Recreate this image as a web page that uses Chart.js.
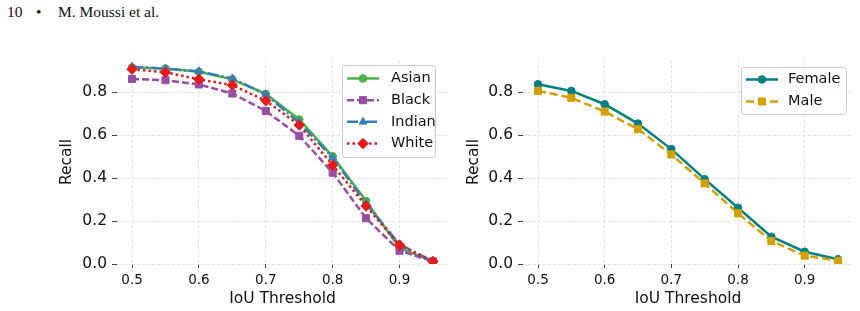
<!DOCTYPE html>
<html>
<head>
<meta charset="utf-8">
<script src="https://cdn.jsdelivr.net/npm/chart.js@4.4.1/dist/chart.umd.min.js"></script>
<style>
body { margin: 0; background: #fff; width: 860px; height: 311px; overflow: hidden; position: relative; }
.hd { position: absolute; top: 4px; font: 15.5px/15.5px "Liberation Serif", serif; color: #111; }
#left { position: absolute; left: 0; top: 0; }
#right { position: absolute; left: 455px; top: 0; }
</style>
</head>
<body>
<div class="hd" style="left:7px">10</div>
<div class="hd" style="left:36px">•</div>
<div class="hd" style="left:58px">M. Moussi et al.</div>
<canvas id="left" width="455" height="311"></canvas>
<canvas id="right" width="405" height="311"></canvas>
<script>
// valores
const iouThresholds = [0.5, 0.55, 0.6, 0.65, 0.7, 0.75, 0.8, 0.85, 0.9, 0.95]
const xTickLabels = [0.5, 0.6, 0.7, 0.8, 0.9]
const yTickLabels = [0.0, 0.2, 0.4, 0.6, 0.8]

const asian  = [0.915, 0.910, 0.895, 0.860, 0.792, 0.673, 0.502, 0.293, 0.075, 0.012]
const black  = [0.862, 0.856, 0.836, 0.794, 0.713, 0.597, 0.425, 0.213, 0.062, 0.012]
const indian = [0.918, 0.910, 0.897, 0.864, 0.790, 0.657, 0.496, 0.280, 0.092, 0.012]
const white  = [0.907, 0.893, 0.860, 0.833, 0.760, 0.647, 0.460, 0.270, 0.088, 0.012]

const female = [0.837, 0.806, 0.744, 0.654, 0.535, 0.395, 0.262, 0.127, 0.057, 0.022]
const male   = [0.806, 0.774, 0.710, 0.628, 0.510, 0.375, 0.236, 0.107, 0.039, 0.015]

const font = "'DejaVu Sans', sans-serif"
const textColor = '#111111'

function pts(vals) {
    return vals.map((v, i) => ({x: iouThresholds[i], y: v}))
}

function serie(label, vals, color, pointStyle, radius, dash, order) {
    return {
        label: label,
        data: pts(vals),
        borderColor: color,
        backgroundColor: color,
        pointBackgroundColor: color,
        pointBorderColor: color,
        pointBorderWidth: 1,
        pointStyle: pointStyle,
        pointRadius: radius,
        borderWidth: 2.5,
        borderDash: dash,
        order: order,
        tension: 0,
        fill: false
    }
}

// legenda desenhada a mão, no estilo do matplotlib
const legendBox = {
    id: 'legendBox',
    afterDraw(chart, args, o) {
        const ctx = chart.ctx, a = chart.chartArea
        const sets = chart.data.datasets
        const h = o.rowH * sets.length + o.padY * 2
        const x0 = a.right - o.right - o.width, y0 = a.top + o.top
        ctx.save()
        ctx.beginPath()
        if (ctx.roundRect) ctx.roundRect(x0 + 0.5, y0 + 0.5, o.width, h, 3)
        else ctx.rect(x0 + 0.5, y0 + 0.5, o.width, h)
        ctx.fillStyle = 'rgba(255,255,255,0.8)'
        ctx.fill()
        ctx.strokeStyle = '#cccccc'
        ctx.lineWidth = 1
        ctx.stroke()
        ctx.font = '14.5px ' + font
        ctx.textBaseline = 'middle'
        sets.forEach((d, i) => {
            const y = y0 + o.padY + o.rowH * (i + 0.5)
            ctx.beginPath()
            ctx.setLineDash(d.borderDash || [])
            ctx.lineWidth = d.borderWidth
            ctx.strokeStyle = d.borderColor
            ctx.moveTo(x0 + 5, y)
            ctx.lineTo(x0 + 37, y)
            ctx.stroke()
            ctx.setLineDash([])
            ctx.fillStyle = d.pointBackgroundColor
            ctx.strokeStyle = d.pointBorderColor
            ctx.lineWidth = 1
            Chart.helpers.drawPoint(ctx, {pointStyle: d.pointStyle, radius: d.pointRadius, rotation: 0, borderWidth: 1}, x0 + 21, y)
            ctx.fillStyle = textColor
            ctx.fillText(d.label, x0 + o.textX, y)
        })
        ctx.restore()
    }
}

function makeChart(id, datasets, geo) {
    return new Chart(document.getElementById(id), {
        type: 'line',
        data: { datasets: datasets },
        options: {
            responsive: false,
            animation: false,
            layout: { padding: { top: 60, right: 7, left: 0, bottom: 0 } },
            plugins: {
                legend: { display: false },
                tooltip: { enabled: false },
                legendBox: geo.legend
            },
            scales: {
                x: {
                    type: 'linear',
                    min: 0.4775,
                    max: 0.9725,
                    afterBuildTicks: s => { s.ticks = xTickLabels.map(v => ({value: v})) },
                    afterFit: s => { s.height = 47 },
                    ticks: { font: { family: font, size: 13.5 }, color: textColor, padding: 4, maxRotation: 0,
                             callback: v => v.toFixed(1) },
                    grid: { color: '#dedede', lineWidth: 0.8, tickLength: 4, tickColor: '#444', tickWidth: 1 },
                    border: { display: false, dash: [3, 2] },
                    title: { display: true, text: 'IoU Threshold', color: textColor,
                             font: { family: font, size: 15.5 }, padding: { top: 0, bottom: 2.5 } }
                },
                y: {
                    min: 0,
                    max: 0.95,
                    afterBuildTicks: s => { s.ticks = yTickLabels.map(v => ({value: v})) },
                    afterFit: s => { s.width = geo.yWidth },
                    ticks: { font: { family: font, size: 15.5 }, color: textColor, padding: 5,
                             callback: v => v.toFixed(1) },
                    grid: { color: '#dedede', lineWidth: 0.8, tickLength: 5, tickColor: '#444', tickWidth: 1 },
                    border: { display: false, dash: [3, 2] },
                    title: { display: true, text: 'Recall', color: textColor,
                             font: { family: font, size: 15.5 }, padding: { top: geo.yTitlePad, bottom: 0 } }
                }
            }
        },
        plugins: [legendBox]
    })
}

makeChart('left', [
    serie('Asian', asian, '#4daf4a', 'circle', 3.8, [], 3),
    serie('Black', black, '#984ea3', 'rect', 5, [7, 3], 2),
    serie('Indian', indian, '#377eb8', 'triangle', 4.5, [11, 3, 2, 3], 1),
    serie('White', white, '#e41a1c', 'rectRot', 5.2, [2.5, 3], 0)
], { yWidth: 117, yTitlePad: 58, legend: { width: 93, rowH: 21.7, padY: 2.6, right: 13, top: 5, textX: 49 } })

makeChart('right', [
    serie('Female', female, '#008080', 'circle', 3.8, [], 1),
    serie('Male', male, '#d4a000', 'rect', 5, [8, 4], 0)
], { yWidth: 68, yTitlePad: 10, legend: { width: 105, rowH: 22, padY: 1.5, right: 7, top: 7, textX: 47 } })
</script>
</body>
</html>
